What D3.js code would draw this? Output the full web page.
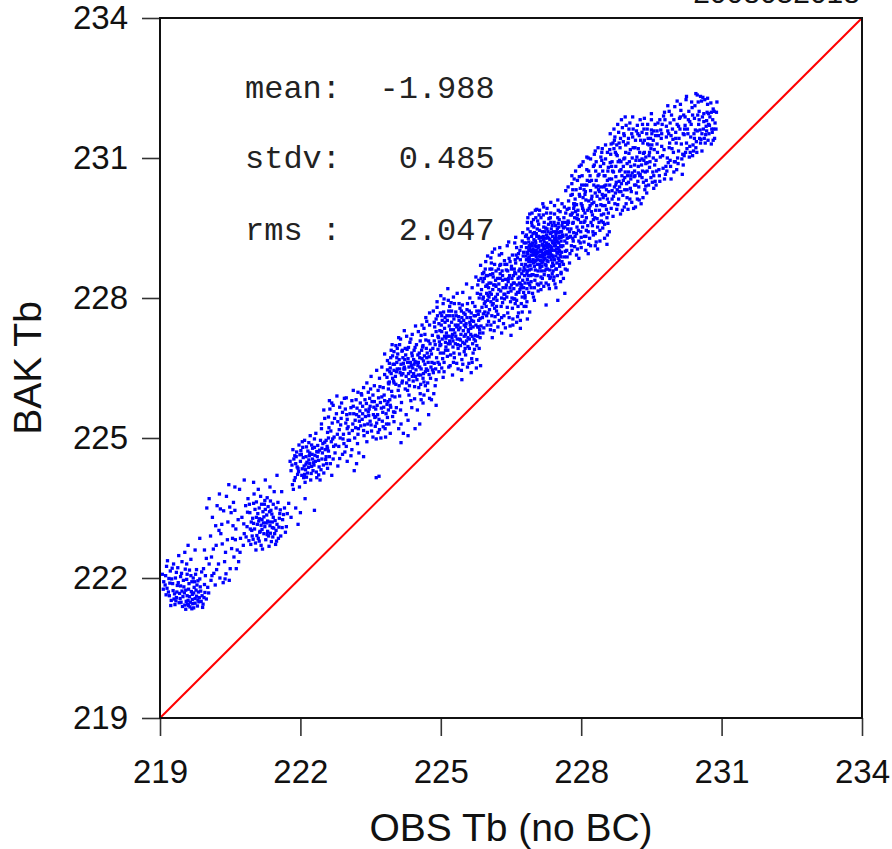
<!DOCTYPE html>
<html>
<head>
<meta charset="utf-8">
<script src="https://cdn.jsdelivr.net/npm/d3@7"></script>
<style>
  html, body { margin: 0; padding: 0; background: #fff; }
  svg { display: block; }
</style>
</head>
<body>
<script>
// ---------------- data ----------------
const dateLabel = "2008052018";
const xTitle = "OBS Tb (no BC)";
const yTitle = "BAK Tb";
const tickValues = [219, 222, 225, 228, 231, 234];
const axisDomain = [219, 234];
const statLabels = ["mean:", "stdv:", "rms :"];
const statValues = ["-1.988", "0.485", "2.047"];

// [OBS Tb, BAK Tb] pairs (first pass)
const obsBakA = [
[219.08,221.92],[219.12,222.05],[219.15,221.78],[219.2,221.62],[219.22,222.15],[219.27,221.88],[219.3,221.55],[219.33,222.0],[219.36,221.7],[219.38,222.22],[219.41,221.47],[219.44,221.83],[219.46,222.1],[219.49,221.6],[219.5,221.95],[219.53,221.42],[219.55,221.74],[219.57,222.3],[219.6,221.52],[219.62,221.88],[219.64,221.38],[219.66,222.05],[219.69,221.65],[219.7,221.45],[219.73,221.8],[219.75,221.56],[219.78,222.18],[219.8,221.4],[219.82,221.7],[219.85,221.98],[219.88,221.5],[219.9,221.62],[219.93,222.2],[219.95,221.86],[219.18,221.7],[219.25,221.98],[219.31,221.66],[219.39,221.9],[219.43,221.56],[219.52,221.68],[219.58,222.08],[219.63,221.6],[219.68,221.92],[219.72,221.36],[219.77,221.74],[219.84,221.58],[219.11,221.85],[219.24,221.52],[219.35,222.12],[219.47,222.35],[219.56,221.5],[219.61,221.76],[219.71,222.0],[219.79,221.85],[219.87,221.72],[219.92,221.44],[219.29,222.3],[219.4,222.48],[219.53,222.55],[219.66,222.4],[219.14,222.25],[219.05,222.08],[219.97,222.05],[220.02,221.8],[220.05,222.3],[219.99,221.55],[219.45,221.48],[219.65,221.48],[219.75,221.46],[219.58,221.62],
[220.1,222.45],[220.15,222.1],[220.2,222.7],[220.25,222.3],[220.3,222.95],[220.35,221.9],[220.4,222.55],[220.45,223.2],[220.5,222.2],[220.55,222.85],[220.6,223.45],[220.65,222.6],[220.12,223.3],[220.22,223.55],[220.32,223.15],[220.42,223.75],[220.52,223.4],[220.62,223.05],[219.75,222.6],[219.85,222.85],[219.95,222.6],[220.08,222.9],[220.18,221.85],[220.28,222.0],[220.38,222.35],[220.48,221.95],[220.58,222.45],[220.7,223.9],[219.6,222.7],[220.0,223.5],[220.05,223.7],[220.27,223.8],[220.47,224.0],[220.68,222.35],
[220.75,223.3],[220.8,222.95],[220.83,223.55],[220.86,223.1],[220.9,222.8],[220.92,223.4],[220.95,223.2],[220.97,222.9],[221.0,223.6],[221.02,223.05],[221.04,222.75],[221.06,223.3],[221.08,223.15],[221.1,222.85],[221.12,223.5],[221.14,223.0],[221.16,222.7],[221.18,223.25],[221.2,223.42],[221.22,222.95],[221.24,223.1],[221.26,222.82],[221.28,223.35],[221.3,223.0],[221.32,222.9],[221.34,223.2],[221.36,223.65],[221.38,222.78],[221.4,223.08],[221.42,223.3],[221.45,222.95],[221.48,223.5],[221.5,223.15],[221.53,222.85],[221.56,223.38],[220.88,223.7],[221.01,223.8],[221.15,223.75],[221.29,223.72],[221.44,223.85],[220.78,222.7],[221.05,222.6],[221.19,222.62],[221.33,222.68],[221.47,222.72],[220.93,223.05],[221.11,223.22],[221.23,223.58],[221.37,223.45],[221.52,223.62],[221.58,222.9],[221.62,223.25],[221.66,223.5],[221.7,223.1],[220.72,222.85],[221.09,223.38],[221.27,223.18],[221.41,222.88],[221.13,222.98],[220.98,223.28],
[221.0,224.05],[221.1,223.9],[221.25,224.1],[221.35,223.95],[221.5,224.2],[221.6,223.85],[221.75,223.6],[221.8,223.3],[221.9,223.5],[222.0,223.4],[222.1,223.7],[222.3,223.45],[221.85,223.9],[221.95,223.15],[220.6,223.95],[220.8,224.1],
[221.8,224.3],[221.83,224.0],[221.86,224.55],[221.89,224.15],[221.92,224.7],[221.95,224.35],[221.98,223.95],[222.0,224.5],[222.03,224.2],[222.05,224.8],[222.08,224.4],[222.1,224.05],[222.12,224.6],[222.15,224.25],[222.18,224.9],[222.2,224.45],[222.22,224.1],[222.25,224.65],[222.27,224.3],[222.3,224.8],[222.32,224.5],[222.35,224.15],[222.38,224.7],[222.4,224.38],[222.43,224.95],[222.46,224.55],[222.5,224.25],[222.53,224.75],[222.56,224.45],[222.6,225.0],[221.9,224.45],[222.02,224.65],[222.14,224.48],[222.24,224.85],[222.36,224.6],[222.48,224.88],[221.84,224.75],[221.97,224.85],[222.09,224.95],[222.21,225.05],[222.33,225.1],[222.45,225.2],[222.11,224.32],[222.19,224.62],[222.29,224.42],[222.07,224.15],[221.94,224.22],[222.26,224.55],[222.42,224.1],[222.58,224.35],[222.62,224.6],[222.67,224.2],[221.78,224.5],[222.16,224.72],
[222.45,225.3],[222.5,225.6],[222.55,224.95],[222.6,225.45],[222.65,225.15],[222.7,225.7],[222.75,224.85],[222.8,225.35],[222.85,225.0],[222.9,225.55],[222.95,224.7],[223.0,225.2],[222.7,224.55],[222.8,224.4],[222.9,224.65],[223.0,224.5],[223.1,224.75],[223.2,224.45],[223.35,224.6],[223.62,224.15],[223.68,224.18],[222.62,225.8],[222.78,225.9],[222.88,225.75],[223.05,224.95],[223.15,224.3],
[223.0,225.4],[223.04,225.1],[223.08,225.65],[223.12,225.3],[223.16,225.0],[223.2,225.5],[223.24,225.2],[223.28,225.75],[223.32,225.4],[223.36,225.05],[223.4,225.6],[223.44,225.3],[223.48,225.85],[223.52,225.15],[223.56,225.5],[223.6,225.25],[223.64,225.7],[223.68,225.4],[223.72,225.0],[223.76,225.55],[223.8,225.8],[223.84,225.3],[223.88,225.6],[223.92,225.1],[223.96,225.9],[223.1,225.8],[223.3,225.95],[223.5,226.05],[223.7,226.1],[223.9,226.2],[223.14,225.52],[223.26,225.36],[223.38,225.82],[223.46,225.48],[223.58,225.78],[223.66,225.12],[223.78,225.66],[223.86,225.44],[223.02,224.95],[223.22,224.88],[223.42,224.92],[223.62,224.98],[223.82,225.02],[224.0,225.35],[224.05,225.65],[224.1,225.2],[224.15,224.9],[224.2,225.1],[224.3,225.05],[224.45,225.2],[224.55,225.3],
[223.85,226.3],[223.9,226.6],[223.95,226.0],[224.0,226.45],[224.04,226.15],[224.08,226.8],[224.12,225.9],[224.16,226.35],[224.2,226.6],[224.24,226.05],[224.28,226.9],[224.32,226.25],[224.36,225.8],[224.4,226.5],[224.44,226.1],[224.48,227.0],[224.52,226.35],[224.56,225.95],[224.6,226.7],[224.64,226.2],[224.68,227.1],[224.72,226.45],[224.76,225.85],[224.8,226.8],[223.92,225.7],[224.02,225.55],[224.14,225.6],[224.26,225.5],[224.38,225.65],[224.5,225.6],[224.62,225.75],[224.74,225.5],[223.8,226.8],[223.96,227.0],[224.1,227.15],[224.22,227.3],[224.34,227.05],[224.46,227.4],[224.58,227.2],[224.7,227.5],[224.06,226.62],[224.18,226.22],[224.3,226.7],[224.42,226.38],[224.54,226.82],[224.66,226.58],[224.78,226.28],[224.09,226.02],[224.21,226.48],[224.33,226.12],[224.45,226.64],[224.57,226.15],[224.69,226.92],[223.88,226.05],[224.0,226.85],[224.13,226.4],[224.25,226.78],[224.37,226.55],[224.49,226.25],[224.61,226.95],[224.73,226.62],[224.15,225.3],[224.3,225.38],[224.85,225.95],[224.9,225.7],
[224.82,227.2],[224.86,226.6],[224.9,227.55],[224.94,226.9],[224.98,227.3],[225.02,226.5],[225.06,227.7],[225.1,227.05],[225.14,226.75],[225.18,227.4],[225.22,227.9],[225.26,226.95],[225.3,227.25],[225.34,226.6],[225.38,227.6],[225.42,227.1],[225.46,227.85],[225.5,226.85],[225.54,227.45],[225.58,227.15],[225.62,228.0],[225.66,226.7],[225.7,227.5],[225.74,227.2],[225.78,228.1],[224.84,226.4],[224.92,227.8],[225.0,227.0],[225.08,227.35],[225.16,227.95],[225.24,227.15],[225.32,227.7],[225.4,226.8],[225.48,227.3],[225.56,227.75],[225.64,227.35],[225.72,226.9],[225.8,227.65],[224.88,227.0],[224.96,227.45],[225.04,226.7],[225.12,227.25],[225.2,226.55],[225.28,227.55],[225.36,227.0],[225.44,226.45],[225.52,227.65],[225.6,226.6],[225.68,227.9],[225.76,226.5],[224.9,226.25],[225.05,226.3],[225.25,226.35],[225.45,226.25],[225.65,226.4],[225.85,226.55],[225.0,228.05],[225.15,228.2],[225.35,228.1],[225.55,228.3],[225.75,228.45],[224.95,227.15],[225.11,226.95],[225.19,227.62],[225.31,227.42],[225.39,227.88],[225.47,227.05],[225.59,227.28],[225.71,227.12],[225.79,227.38],[225.03,227.52],[225.23,227.72],[225.43,227.48],[225.63,227.58],[225.83,227.25],
[225.82,228.0],[225.86,227.4],[225.9,228.35],[225.94,227.7],[225.98,228.1],[226.02,227.5],[226.06,228.5],[226.1,227.85],[226.14,227.3],[226.18,228.25],[226.22,227.65],[226.26,228.7],[226.3,228.0],[226.34,227.45],[226.38,228.4],[226.42,227.8],[226.46,228.85],[226.5,228.15],[226.54,227.55],[226.58,228.55],[226.62,227.95],[226.66,228.95],[226.7,228.3],[226.74,227.7],[226.78,228.65],[225.84,227.15],[225.92,228.55],[226.0,227.95],[226.08,228.75],[226.16,227.6],[226.24,228.3],[226.32,227.9],[226.4,228.6],[226.48,227.4],[226.56,228.2],[226.64,227.6],[226.72,229.1],[226.8,228.0],[225.88,227.8],[225.96,228.25],[226.04,227.75],[226.12,228.45],[226.2,227.95],[226.28,228.15],[226.36,228.8],[226.44,228.35],[226.52,228.0],[226.6,228.75],[226.68,228.45],[226.76,228.9],[225.85,228.7],[226.0,228.9],[226.15,229.05],[226.3,228.95],[226.45,229.2],[226.6,229.3],[226.75,229.4],[225.9,227.25],[226.1,227.15],[226.3,227.25],[226.5,227.2],[226.7,227.35],[226.85,227.55],[226.03,228.02],[226.11,228.18],[226.19,227.82],[226.27,228.42],[226.35,228.08],[226.43,228.58],[226.51,228.28],[226.59,227.88],[226.67,228.12],[226.75,228.38],[225.95,227.92],[226.07,228.32],[226.23,228.62],[226.39,228.22],[226.55,228.48],[226.71,228.22],[226.87,228.82],[226.9,227.7],[226.95,228.5],
[226.82,228.9],[226.85,228.4],[226.88,229.2],[226.91,228.7],[226.94,229.0],[226.97,228.5],[227.0,229.4],[227.03,228.8],[227.06,228.3],[227.09,229.1],[227.12,228.65],[227.15,229.3],[227.18,228.95],[227.21,228.5],[227.24,229.5],[227.27,228.8],[227.3,229.15],[227.33,228.6],[227.36,229.4],[227.39,228.9],[227.42,228.45],[227.45,229.25],[227.48,228.75],[227.51,229.6],[227.54,229.0],[227.57,228.55],[227.6,229.35],[226.83,229.35],[226.89,228.6],[226.95,229.55],[227.01,228.95],[227.07,229.65],[227.13,229.0],[227.19,229.25],[227.25,228.7],[227.31,229.7],[227.37,229.05],[227.43,229.8],[227.49,229.2],[227.55,229.85],[226.86,228.95],[226.92,229.15],[226.98,228.75],[227.04,229.1],[227.1,228.9],[227.16,228.75],[227.22,229.05],[227.28,229.3],[227.34,228.95],[227.4,229.2],[227.46,228.9],[227.52,229.4],[227.58,229.1],[226.84,228.2],[226.96,228.1],[227.08,228.15],[227.2,228.25],[227.32,228.2],[227.44,228.3],[227.56,228.35],[226.9,229.8],[227.05,229.9],[227.2,229.95],[227.35,230.05],[227.5,230.1],[226.87,228.85],[226.93,228.35],[226.99,229.25],[227.02,228.6],[227.11,229.45],[227.14,228.45],[227.17,229.15],[227.23,228.85],[227.26,229.35],[227.29,228.95],[227.35,228.45],[227.38,229.55],[227.41,228.7],[227.47,229.05],[227.53,228.8],[227.59,229.55],[226.8,228.6],[226.97,229.05],[227.05,228.95],[227.13,228.8],[227.21,229.2],[227.27,229.0],[227.33,229.25],[227.39,228.75],[227.45,229.55],[227.51,228.85],[227.57,229.3],[226.8,228.05],[227.0,227.95],[227.25,227.85],[227.5,227.95],[227.65,228.1],[227.7,228.6],
[227.62,229.5],[227.66,229.0],[227.7,229.9],[227.74,229.3],[227.78,230.2],[227.82,229.6],[227.86,229.1],[227.9,230.0],[227.94,229.45],[227.98,230.35],[228.02,229.75],[228.06,229.2],[228.1,230.1],[228.14,229.55],[228.18,230.5],[228.22,229.85],[228.26,229.35],[228.3,230.25],[228.34,229.7],[228.38,230.65],[228.42,230.0],[228.46,229.5],[228.5,230.4],[228.54,229.9],[228.58,230.8],[227.64,229.95],[227.72,229.65],[227.8,230.45],[227.88,229.85],[227.96,230.6],[228.04,230.15],[228.12,230.75],[228.2,230.3],[228.28,230.85],[228.36,230.4],[228.44,230.95],[228.52,230.2],[228.6,230.55],[227.68,229.35],[227.76,228.95],[227.84,229.4],[227.92,229.05],[228.0,229.3],[228.08,229.65],[228.16,229.15],[228.24,229.55],[228.32,229.2],[228.4,229.45],[228.48,229.8],[228.56,229.35],[227.67,230.3],[227.85,230.55],[228.0,230.85],[228.15,231.0],[228.3,231.15],[228.45,231.2],[227.75,228.75],[227.95,228.85],[228.15,228.95],[228.35,229.05],[228.55,229.15],[227.79,229.78],[227.87,230.12],[227.99,229.62],[228.07,230.42],[228.19,229.98],[228.27,230.05],[228.39,230.28],[228.47,230.15],[228.59,230.05],[227.71,229.58],[227.83,229.22],[227.91,229.7],[228.03,229.92],[228.11,229.45],[228.23,230.18],[228.31,229.88],[228.43,229.65],[228.51,230.62],[228.57,229.6],
[228.62,230.9],[228.66,230.3],[228.7,231.2],[228.74,230.6],[228.78,230.0],[228.82,230.95],[228.86,230.45],[228.9,231.35],[228.94,230.7],[228.98,230.15],[229.02,231.1],[229.06,230.55],[229.1,231.45],[229.14,230.85],[229.18,230.25],[229.22,231.2],[229.26,230.65],[229.3,231.55],[229.34,230.95],[229.38,230.4],[229.42,231.3],[229.46,230.8],[229.5,231.6],[229.54,231.0],[229.58,230.5],[228.64,231.3],[228.72,231.45],[228.8,231.55],[228.88,231.65],[228.96,231.7],[229.04,231.75],[228.68,229.75],[228.76,229.9],[228.84,229.8],[228.92,229.95],[229.0,229.9],[229.08,230.05],[229.16,229.95],[229.24,230.1],[229.32,230.15],[228.69,230.7],[228.77,231.05],[228.85,230.75],[228.93,231.0],[229.01,230.7],[229.09,231.0],[229.17,230.95],[229.25,230.95],[229.33,231.1],[229.41,230.9],[229.49,231.2],[229.57,230.85],[228.65,230.55],[228.73,230.25],[228.81,230.5],[228.89,230.2],[228.97,230.45],[229.05,230.35],[229.13,230.6],[229.21,230.5],[229.29,230.85],[229.37,230.7],[229.45,231.05],[229.53,230.7],[229.2,231.7],[229.35,231.85],[229.5,231.95],[229.4,230.25],[229.55,230.35],
[229.62,231.3],[229.66,230.75],[229.7,231.6],[229.74,231.05],[229.78,230.55],[229.82,231.45],[229.86,230.9],[229.9,231.75],[229.94,231.2],[229.98,230.7],[230.02,231.55],[230.06,231.0],[230.1,231.85],[230.14,231.3],[230.18,230.85],[230.22,231.7],[230.26,231.2],[230.3,232.0],[230.34,231.45],[230.38,231.05],[230.42,231.85],[230.46,231.35],[230.5,232.2],[230.54,231.6],[230.58,231.15],[230.62,231.95],[230.66,231.5],[230.7,232.15],[230.74,231.7],[230.78,231.3],[230.82,232.05],[230.86,231.75],[230.9,232.2],[229.64,231.75],[229.76,231.9],[229.88,232.0],[230.0,232.1],[230.12,232.15],[230.24,232.25],[230.36,232.2],[230.48,232.35],[230.6,232.3],[229.68,230.5],[229.8,230.65],[229.92,230.55],[230.04,230.75],[230.16,230.65],[229.72,231.25],[229.84,231.0],[229.96,231.4],[230.08,231.15],[230.2,231.5],[230.32,231.25],[230.44,231.6],[230.56,231.4],[230.68,231.8],[230.8,231.55],[229.6,230.95],[229.9,230.95],[230.2,231.05],[230.4,231.15],[230.72,231.95],[230.84,232.0],[230.52,232.0],[230.64,232.25]
];

// [OBS Tb, BAK Tb] pairs (second pass, filling density)
const obsBakB = [
[219.13,221.64],[219.19,221.99],[219.23,221.41],[219.28,221.73],[219.34,221.51],[219.37,221.84],[219.42,221.67],[219.48,221.39],[219.51,221.81],[219.54,222.19],[219.59,221.44],[219.67,221.71],[219.74,221.92],[219.81,221.53],[219.86,221.81],[219.91,221.37],[219.96,221.69],[219.07,221.76],[219.16,222.37],[219.26,222.21],[219.32,221.43],[219.44,222.03],[219.57,221.97],[219.63,222.17],[219.69,221.54],[219.76,222.08],[219.83,221.49],[219.89,222.13],[219.21,221.89],[219.35,221.58],[219.47,221.72],[219.61,221.41],[219.72,221.68],[219.81,221.94],[219.94,221.58],[220.04,221.68],[220.09,221.95],[219.55,221.33],[219.68,221.34],[219.78,221.61],
[220.14,222.62],[220.21,222.18],[220.33,222.73],[220.41,222.09],[220.53,222.63],[220.63,222.2],[220.26,223.02],[220.36,223.44],[220.57,223.62],[220.67,223.25],[220.11,222.05],[219.99,222.42],[220.44,222.82],[220.19,223.12],[220.39,221.98],[220.61,222.82],[220.71,222.55],[220.49,223.52],[220.29,223.48],[220.56,223.12],
[220.79,223.16],[220.84,222.88],[220.91,223.58],[220.96,223.02],[221.03,223.47],[221.07,222.91],[221.13,223.27],[221.17,223.58],[221.21,223.18],[221.25,223.47],[221.29,222.93],[221.31,223.53],[221.35,223.12],[221.39,223.37],[221.43,223.07],[221.46,223.23],[221.49,222.79],[221.54,223.09],[221.57,223.46],[221.61,223.08],[220.87,223.41],[220.94,222.72],[221.0,223.17],[221.06,223.63],[221.12,222.79],[221.18,223.04],[221.24,223.66],[221.3,223.22],[221.36,222.96],[221.42,223.58],[221.48,223.02],[221.55,223.28],[221.64,223.36],[221.68,222.98],[221.72,223.38],[220.99,222.83],[221.16,223.13],[221.22,223.31],[221.34,223.42],[221.4,223.2],
[221.82,224.42],[221.87,224.09],[221.91,224.6],[221.96,224.28],[222.01,224.73],[222.04,224.34],[222.06,224.58],[222.09,224.22],[222.13,224.81],[222.17,224.37],[222.2,224.68],[222.23,224.24],[222.26,224.78],[222.28,224.47],[222.31,224.63],[222.34,224.27],[222.37,224.84],[222.39,224.52],[222.41,224.74],[222.44,224.32],[222.47,224.68],[222.49,224.42],[222.52,224.91],[222.55,224.6],[222.57,224.82],[221.88,224.62],[221.93,224.38],[221.99,224.64],[222.04,224.92],[222.13,224.16],[222.18,224.53],[222.24,224.39],[222.3,224.98],[222.35,224.71],[222.39,224.21],[222.46,224.78],[222.54,224.54],[222.6,224.72],[222.64,224.45],[222.12,224.44],
[222.52,225.42],[222.58,225.12],[222.63,225.62],[222.68,225.32],[222.72,225.02],[222.77,225.52],[222.83,225.18],[222.87,225.42],[222.92,225.08],[222.97,225.32],[222.58,224.78],[222.66,224.92],[222.74,224.68],[222.82,224.82],[222.93,224.88],[222.99,225.5],[222.67,225.75],[222.94,225.85],[223.08,224.62],[223.25,224.68],
[223.02,225.24],[223.06,225.52],[223.11,225.16],[223.13,225.68],[223.17,225.38],[223.19,225.82],[223.23,225.08],[223.27,225.58],[223.29,225.26],[223.33,225.68],[223.35,225.16],[223.39,225.46],[223.41,225.74],[223.43,225.12],[223.47,225.62],[223.49,225.36],[223.53,225.78],[223.55,225.02],[223.59,225.44],[223.61,225.62],[223.63,225.32],[223.67,225.86],[223.69,225.18],[223.73,225.64],[223.75,225.36],[223.79,225.92],[223.81,225.2],[223.83,225.52],[223.87,225.78],[223.89,225.3],[223.93,225.66],[223.97,225.46],[223.18,225.22],[223.25,225.46],[223.31,225.92],[223.37,225.28],[223.45,225.56],[223.51,225.28],[223.57,225.66],[223.65,225.5],[223.71,225.76],[223.77,225.24],[223.85,225.72],[223.91,225.82],[223.99,225.56],[223.21,225.64],[223.33,225.52],[223.49,225.68],[223.61,225.46],[223.74,225.88],
[223.86,226.46],[223.89,226.16],[223.93,226.72],[223.97,226.28],[224.01,226.58],[224.03,226.32],[224.07,226.92],[224.11,226.12],[224.15,226.58],[224.17,226.86],[224.19,226.38],[224.23,226.68],[224.27,226.18],[224.29,226.62],[224.31,226.94],[224.35,226.42],[224.39,226.76],[224.41,226.22],[224.43,226.88],[224.47,226.46],[224.51,226.78],[224.53,226.08],[224.55,226.52],[224.59,226.88],[224.63,226.38],[224.65,226.76],[224.67,226.12],[224.71,226.82],[224.75,226.36],[224.77,227.02],[223.91,226.42],[223.99,226.22],[224.05,226.42],[224.11,226.68],[224.17,226.18],[224.23,226.48],[224.29,226.02],[224.35,226.62],[224.39,226.32],[224.45,226.94],[224.51,226.55],[224.57,226.35],[224.63,226.65],[224.69,226.48],[224.75,226.74],[224.79,226.52],[223.94,226.88],[224.04,226.98],[224.14,227.12],[224.27,227.18],[224.39,227.22],[224.52,227.28],[224.64,227.35],[224.76,227.42],[224.02,225.88],[224.16,225.76],[224.32,225.92],[224.44,225.84],[224.58,225.82],[224.72,226.02],[224.07,226.48],[224.19,226.72],[224.31,226.38],[224.43,226.58],[224.55,226.72],[224.67,226.42],[224.81,226.62],[223.98,226.58],[224.24,226.92],[224.48,226.62],
[224.83,226.92],[224.87,227.38],[224.91,226.72],[224.93,227.62],[224.97,227.06],[224.99,226.82],[225.01,227.42],[225.03,227.12],[225.07,226.62],[225.09,227.58],[225.13,227.18],[225.15,226.88],[225.17,227.72],[225.19,227.08],[225.21,226.78],[225.23,227.48],[225.27,227.32],[225.29,226.72],[225.33,227.62],[225.35,227.12],[225.37,226.92],[225.41,227.78],[225.43,227.22],[225.45,226.68],[225.49,227.52],[225.51,227.02],[225.53,226.78],[225.57,227.88],[225.59,227.32],[225.61,226.92],[225.65,227.68],[225.67,227.18],[225.69,226.82],[225.73,227.82],[225.75,227.42],[225.77,226.98],[225.81,227.52],[225.05,227.88],[225.13,227.62],[225.21,227.32],[225.29,227.88],[225.37,227.42],[225.45,227.58],[225.53,227.22],[225.61,227.72],[225.69,227.38],[225.77,227.72],[224.86,227.08],[224.94,227.18],[225.02,227.28],[225.1,226.88],[225.18,227.18],[225.26,227.08],[225.34,227.38],[225.42,226.98],[225.5,227.42],[225.58,226.96],[225.66,227.52],[225.74,227.08],[225.82,226.92],[224.89,226.48],[224.97,226.58],[225.07,226.42],[225.17,226.52],[225.27,226.62],[225.37,226.48],[225.47,226.58],[225.57,226.52],[225.67,226.62],[225.77,226.68],[225.07,227.98],[225.27,228.02],[225.47,228.12],[225.67,228.22],[225.79,228.28],[224.99,227.68],[225.09,227.48],[225.19,227.82],[225.31,227.02],[225.41,227.36],[225.49,227.68],[225.55,227.08],[225.63,227.42],[225.71,227.62],[225.79,227.18],[225.25,227.22],[225.39,227.52],[225.53,227.38],[225.11,227.14],[225.61,227.12],
[225.83,227.72],[225.87,228.18],[225.89,227.58],[225.93,228.42],[225.97,227.82],[225.99,228.28],[226.01,227.68],[226.05,228.12],[226.07,227.42],[226.09,228.62],[226.13,227.98],[226.17,228.38],[226.19,227.72],[226.21,228.08],[226.25,227.52],[226.27,228.52],[226.29,227.82],[226.33,228.22],[226.35,227.62],[226.37,228.72],[226.41,228.02],[226.43,227.68],[226.45,228.42],[226.49,227.92],[226.51,228.62],[226.53,227.78],[226.57,228.32],[226.59,228.82],[226.61,228.08],[226.65,227.82],[226.67,228.58],[226.69,228.18],[226.73,228.72],[226.77,228.12],[226.79,228.48],[225.86,228.42],[225.91,228.02],[225.95,228.62],[226.03,228.32],[226.07,228.86],[226.11,228.52],[226.15,228.72],[226.21,228.42],[226.25,228.92],[226.31,228.58],[226.37,228.08],[226.41,228.72],[226.47,228.48],[226.53,228.92],[226.57,228.62],[226.63,228.28],[226.69,228.62],[226.73,228.28],[226.77,228.98],[225.84,227.56],[225.92,227.36],[225.98,227.62],[226.06,227.32],[226.14,227.48],[226.22,227.38],[226.3,227.58],[226.38,227.36],[226.46,227.58],[226.54,227.42],[226.62,227.48],[226.7,227.52],[226.78,227.82],[226.02,228.22],[226.08,228.08],[226.12,227.88],[226.18,228.58],[226.24,228.18],[226.28,228.72],[226.32,228.38],[226.36,227.98],[226.4,228.28],[226.44,228.12],[226.48,228.78],[226.52,228.42],[226.56,227.98],[226.6,228.52],[226.64,228.12],[226.68,228.32],[226.72,227.88],[226.76,228.58],[225.96,228.78],[226.1,228.98],[226.26,229.08],[226.42,229.12],[226.58,229.18],[226.74,229.22],[225.9,227.98],[226.0,228.48],[226.16,228.28],[226.32,228.48],[226.48,228.22],[226.64,228.86],[226.8,228.32],[226.84,227.92],[226.88,228.12],
[226.81,228.72],[226.83,229.08],[226.85,228.58],[226.87,229.28],[226.89,228.88],[226.91,229.42],[226.93,228.62],[226.95,229.12],[226.97,228.82],[226.99,229.52],[227.01,229.12],[227.03,228.48],[227.05,229.32],[227.07,228.82],[227.09,229.58],[227.11,228.72],[227.13,229.22],[227.15,228.58],[227.17,229.42],[227.19,228.92],[227.21,229.62],[227.23,229.12],[227.25,228.62],[227.27,229.48],[227.29,228.78],[227.31,229.28],[227.33,228.88],[227.35,229.62],[227.37,228.68],[227.39,229.18],[227.41,229.42],[227.43,228.82],[227.45,229.12],[227.47,228.62],[227.49,229.48],[227.51,229.08],[227.53,229.68],[227.55,228.92],[227.57,229.22],[227.59,228.78],[226.82,229.18],[226.84,228.52],[226.86,229.48],[226.88,228.78],[226.9,229.08],[226.92,228.48],[226.94,229.32],[226.96,228.92],[226.98,229.68],[227.0,228.68],[227.02,229.22],[227.04,228.88],[227.06,229.48],[227.08,228.58],[227.1,229.28],[227.12,229.02],[227.14,229.72],[227.16,228.68],[227.18,229.12],[227.2,228.82],[227.22,229.42],[227.24,228.98],[227.26,229.18],[227.28,228.62],[227.3,229.58],[227.32,229.02],[227.34,229.38],[227.36,228.82],[227.38,229.22],[227.4,228.58],[227.42,229.62],[227.44,229.02],[227.46,229.32],[227.48,228.98],[227.5,229.72],[227.52,229.18],[227.54,228.68],[227.56,229.42],[227.58,228.98],[227.6,229.62],[226.85,229.62],[226.95,229.82],[227.03,229.72],[227.11,229.88],[227.19,229.78],[227.27,229.92],[227.35,229.82],[227.43,229.98],[227.51,229.88],[227.59,230.02],[226.87,228.32],[226.93,228.22],[227.01,228.38],[227.09,228.28],[227.17,228.42],[227.25,228.32],[227.33,228.42],[227.41,228.38],[227.49,228.48],[227.57,228.52],[226.84,228.98],[226.9,228.82],[226.96,229.18],[227.02,228.92],[227.08,229.08],[227.14,228.9],[227.2,229.08],[227.26,228.96],[227.32,229.12],[227.38,229.02],[227.44,229.18],[227.5,228.96],[227.56,229.12],[226.92,229.02],[226.98,228.98],[227.04,229.02],[227.1,229.12],[227.16,229.02],[227.22,228.92],[227.28,229.08],[227.34,229.1],[227.4,228.88],[227.46,229.38],[227.52,229.28],[227.58,229.42],[226.86,228.68],[226.94,228.78],[227.0,229.02],[227.06,228.72],[227.12,228.88],[227.18,228.78],[227.24,229.28],[227.3,228.88],[227.36,229.08],[227.42,229.12],[227.48,229.22],[227.54,229.32],[226.88,229.02],[227.04,229.38],[227.2,229.52],[227.36,229.48],[227.52,229.52],[227.0,228.22],[227.14,228.18],[227.3,228.28],[227.46,228.22],[227.62,228.42],[227.64,228.88],[227.66,228.62],
[227.61,229.12],[227.63,229.72],[227.65,229.22],[227.67,229.82],[227.69,229.02],[227.71,229.48],[227.73,230.08],[227.75,229.42],[227.77,229.78],[227.79,229.12],[227.81,230.22],[227.83,229.62],[227.85,229.98],[227.87,229.32],[227.89,230.32],[227.91,229.52],[227.93,229.88],[227.95,229.22],[227.97,230.18],[227.99,229.42],[228.01,230.42],[228.03,229.52],[228.05,229.88],[228.07,229.32],[228.09,230.28],[228.11,229.72],[228.13,230.52],[228.15,229.42],[228.17,229.92],[228.19,230.62],[228.21,229.62],[228.23,230.02],[228.25,229.42],[228.27,230.42],[228.29,229.72],[228.31,230.72],[228.33,229.98],[228.35,229.52],[228.37,230.32],[228.39,229.88],[228.41,230.82],[228.43,229.78],[228.45,230.22],[228.47,229.62],[228.49,230.62],[228.51,229.98],[228.53,230.42],[228.55,229.72],[228.57,230.72],[228.59,230.28],[227.66,229.62],[227.7,229.28],[227.74,229.92],[227.78,229.48],[227.82,229.28],[227.86,229.72],[227.9,229.38],[227.94,229.68],[227.98,229.18],[228.02,229.98],[228.06,229.62],[228.1,229.32],[228.14,229.88],[228.18,229.28],[228.22,230.12],[228.26,229.68],[228.3,229.38],[228.34,230.18],[228.38,229.62],[228.42,230.38],[228.46,229.98],[228.5,229.58],[228.54,230.32],[228.58,229.82],[227.72,230.38],[227.8,230.62],[227.88,230.72],[227.96,230.82],[228.04,230.92],[228.12,231.02],[228.2,230.98],[228.28,231.08],[228.36,231.22],[228.44,231.12],[228.52,231.28],[227.7,228.88],[227.8,229.02],[227.9,228.92],[228.0,229.08],[228.1,229.02],[228.2,229.12],[228.3,229.12],[228.4,229.22],[228.5,229.28],[228.6,229.42],[227.84,230.02],[228.08,230.22],[228.32,230.52],[228.48,230.88],[228.56,230.12],
[228.61,230.42],[228.63,231.08],[228.67,230.72],[228.71,230.38],[228.73,231.12],[228.75,230.48],[228.79,230.92],[228.81,230.28],[228.83,231.22],[228.87,230.62],[228.91,230.98],[228.93,230.32],[228.95,231.28],[228.99,230.62],[229.03,230.92],[229.07,230.28],[229.11,231.22],[229.15,230.62],[229.19,231.02],[229.23,230.38],[229.27,231.38],[229.31,230.72],[229.35,231.12],[229.39,230.52],[229.43,231.42],[229.47,230.92],[229.51,231.28],[229.55,230.62],[229.59,231.48],[228.62,231.52],[228.7,231.62],[228.78,231.72],[228.86,231.82],[228.94,231.88],[229.02,231.62],[229.1,231.88],[229.18,231.58],[229.26,231.82],[229.34,231.62],[229.42,231.72],[229.5,231.82],[229.58,231.72],[228.64,229.92],[228.72,230.02],[228.8,230.12],[228.88,229.88],[228.96,230.02],[229.04,230.12],[229.12,229.92],[229.2,230.12],[229.28,230.02],[229.36,230.32],[229.44,230.42],[229.52,230.48],[229.6,230.42],[228.66,230.92],[228.74,230.82],[228.82,230.72],[228.9,230.82],[228.98,230.88],[229.06,230.82],[229.14,230.72],[229.22,230.82],[229.3,230.98],[229.38,231.02],[229.46,231.12],[229.54,231.38],[228.68,231.32],[228.76,231.28],[228.84,231.42],[228.92,231.48],[229.0,231.32],[229.08,231.52],[229.16,231.38],[229.24,231.48],[229.32,231.32],[229.4,231.52],[229.48,231.42],[229.56,231.18],[228.69,230.18],[228.77,230.32],[228.85,230.28],[228.93,230.58],[229.01,230.48],[229.09,230.68],[229.17,230.42],[229.25,230.62],[229.33,230.48],[229.41,230.72],[229.49,230.58],
[229.61,230.72],[229.65,231.48],[229.69,231.02],[229.73,231.72],[229.77,231.18],[229.81,230.82],[229.85,231.58],[229.89,231.32],[229.93,231.92],[229.97,231.12],[230.01,230.92],[230.05,231.72],[230.09,231.42],[230.13,232.02],[230.17,231.08],[230.21,231.62],[230.25,231.32],[230.29,231.82],[230.33,231.12],[230.37,232.08],[230.41,231.52],[230.45,231.22],[230.49,231.92],[230.53,231.42],[230.57,232.22],[230.61,231.62],[230.65,231.32],[230.69,231.98],[230.73,231.52],[230.77,232.18],[230.81,231.82],[230.85,231.42],[230.89,231.98],[229.63,231.12],[229.71,231.42],[229.79,231.82],[229.87,231.52],[229.95,231.62],[230.03,231.32],[230.11,231.62],[230.19,231.92],[230.27,231.62],[230.35,231.72],[230.43,232.12],[230.51,231.72],[230.59,231.88],[230.67,231.68],[230.75,231.88],[230.83,231.62],[229.67,230.62],[229.75,230.78],[229.83,230.72],[229.91,230.82],[229.99,230.92],[230.07,230.88],[230.15,230.98],[230.23,231.12],[230.31,231.02],[230.39,231.28],[230.47,231.12],[230.55,231.32],[230.63,231.42],[230.71,231.38],[230.79,231.62],[229.85,232.12],[230.05,232.22],[230.25,232.32],[230.45,232.38],[230.55,232.32],[230.7,232.28]
];

// [OBS Tb, BAK Tb] pairs (third pass, band edges and dense core)
const obsBakC = [
[223.42,226.18],[223.51,226.32],[223.58,226.12],[223.63,226.45],[223.69,226.28],[223.74,226.52],[223.8,226.36],[223.86,226.66],[223.92,226.5],[223.97,226.76],[223.45,225.98],[223.55,225.92],[223.66,226.02],[223.77,226.08],[223.88,226.18],[223.35,226.08],[223.23,225.98],[223.13,226.02],[222.98,225.86],[222.84,225.66],
[222.61,225.22],[222.69,224.98],[222.73,225.42],[222.79,225.08],[222.86,225.28],[222.91,224.98],[222.96,225.62],[222.71,224.82],[222.84,224.56],[222.98,224.82],
[224.62,226.98],[224.66,227.22],[224.7,226.72],[224.74,227.08],[224.78,226.88],[224.82,226.46],[224.86,227.48],[224.9,227.28],[224.94,226.62],[224.98,226.98],[224.64,225.92],[224.72,226.18],[224.8,225.82],[224.88,226.12],[224.96,226.42],[224.6,227.42],[224.68,227.58],[224.76,227.68],[224.84,227.72],[224.92,227.92],
[225.81,228.38],[225.85,228.08],[225.89,228.52],[225.93,227.88],[225.97,228.48],[226.01,228.06],[226.05,228.62],[226.09,227.62],[226.13,228.28],[226.17,228.02],[225.83,227.32],[225.91,227.66],[225.99,227.42],[226.07,227.92],[226.15,227.78],
[226.51,228.68],[226.55,228.32],[226.61,228.92],[226.65,228.42],[226.69,229.02],[226.73,228.52],[226.77,228.22],[226.81,229.32],[226.83,228.82],[226.87,228.48],[226.89,229.12],[226.93,228.92],[226.97,229.38],[227.01,228.78],[227.03,229.18],[227.07,228.98],[227.09,229.32],[227.13,228.92],[227.17,228.88],[227.19,229.32],[227.23,228.72],[227.27,229.12],[227.29,229.42],[227.33,229.02],[227.37,228.92],[227.39,229.32],[227.43,229.28],[227.47,229.42],[227.53,229.02],[227.57,228.88],[227.61,229.32],[227.65,229.52],[227.69,229.18],[227.73,229.62],[227.77,229.32],[227.81,229.82],[226.58,227.98],[226.66,227.68],[226.74,228.02],[226.82,227.82],[226.9,228.28],[226.98,228.02],[227.06,228.48],[227.14,228.32],[227.22,228.58],[227.3,228.48],[227.38,228.52],[227.46,228.62],[227.54,228.72],[227.62,228.72],[226.62,229.08],[226.7,228.82],[226.78,229.18],[226.86,229.72],[226.94,229.62],[227.02,229.88],[227.1,229.78],[227.18,230.02],[227.26,229.82],[227.34,229.72],
[227.82,230.32],[227.86,230.02],[227.92,230.52],[227.96,230.22],[228.02,230.62],[228.06,230.32],[228.12,230.42],[228.16,230.72],[228.22,230.52],[228.26,230.82],[228.32,230.92],[228.36,230.62],[228.42,231.02],[228.46,230.72],[228.52,230.98],[228.56,231.12],[227.84,229.92],[227.92,229.78],[228.0,230.02],[228.08,229.82],[228.16,230.08],[228.24,229.78],[228.32,230.38],[228.4,230.12],[228.48,230.38],[228.56,230.52],
[228.61,231.18],[228.65,230.82],[228.71,231.38],[228.75,231.08],[228.81,231.32],[228.85,230.92],[228.91,231.52],[228.95,231.12],[229.01,231.42],[229.05,231.18],[229.11,231.62],[229.15,231.22],[229.21,231.52],[229.25,231.12],[229.31,231.72],[229.35,231.38],[229.41,231.62],[229.45,231.28],[229.51,231.52],[229.55,231.58],[228.66,230.12],[228.74,230.42],[228.82,230.38],[228.9,230.52],[228.98,230.32],[229.06,230.62],[229.14,230.42],[229.22,230.68],[229.3,230.58],[229.38,230.88],
[229.62,231.58],[229.68,231.82],[229.72,231.52],[229.78,231.98],[229.82,231.68],[229.88,231.22],[229.92,231.48],[229.98,231.82],[230.02,231.42],[230.08,231.68],[230.12,231.88],[230.18,231.52],[230.22,231.88],[230.28,231.52],[230.32,231.78],[230.38,231.92],[230.42,231.42],[230.48,231.58],[230.52,231.82],[230.58,231.52],[230.62,231.78],[230.68,231.58],[230.72,231.72],[230.78,231.98],[230.82,231.38],[230.88,231.62],
[225.02,227.62],[225.08,227.18],[225.14,227.52],[225.2,227.02],[225.26,227.62],[225.32,227.18],[225.38,227.32],[225.44,227.72],[225.5,227.18],[225.56,227.58],[225.62,227.48],[225.68,227.02],[225.74,227.62],[225.8,227.38],[225.06,226.82],[225.16,227.02],[225.28,226.82],[225.4,227.12],[225.52,226.92],[225.64,227.22],
[223.94,226.38],[224.0,226.18],[224.06,226.72],[224.12,226.48],[224.18,226.88],[224.22,226.52],[224.26,226.32],[224.32,226.52],[224.38,226.82],[224.42,226.68],[224.46,226.32],[224.52,226.62],[224.58,226.48],[224.62,226.28],[224.12,227.0],[224.36,227.12],[224.56,227.08]
];

const obsBak = obsBakA.concat(obsBakB, obsBakC);

// ---------------- layout ----------------
const W = 892, H = 849;
const plot = {left: 160, top: 18, right: 862, bottom: 718};

const svg = d3.select("body").append("svg")
  .attr("width", W).attr("height", H)
  .style("font-family", "'Liberation Sans', Arial, Helvetica, sans-serif");

const x = d3.scaleLinear().domain(axisDomain).range([plot.left, plot.right]);
const y = d3.scaleLinear().domain(axisDomain).range([plot.bottom, plot.top]);

// date label (cut at top, as in the original)
svg.append("text")
  .attr("x", 860).attr("y", 3)
  .attr("text-anchor", "end")
  .attr("font-size", 30)
  .attr("fill", "#111")
  .text(dateLabel);

// scatter
const ms = 3.3;
svg.append("g").selectAll("rect")
  .data(obsBak)
  .join("rect")
  .attr("x", d => x(d[0]) - ms / 2)
  .attr("y", d => y(d[1]) - ms / 2)
  .attr("width", ms).attr("height", ms)
  .attr("fill", "#0000ff");

// 1:1 line
svg.append("line")
  .attr("x1", x(axisDomain[0])).attr("y1", y(axisDomain[0]))
  .attr("x2", x(axisDomain[1])).attr("y2", y(axisDomain[1]))
  .attr("stroke", "#ff0000").attr("stroke-width", 2);

// axes
const xAxis = d3.axisBottom(x).tickValues(tickValues).tickSize(18).tickPadding(24).tickFormat(d3.format("d"));
const yAxis = d3.axisLeft(y).tickValues(tickValues).tickSize(18).tickPadding(14).tickFormat(d3.format("d"));

const gx = svg.append("g").attr("transform", `translate(0,${plot.bottom})`).call(xAxis);
const gy = svg.append("g").attr("transform", `translate(${plot.left},0)`).call(yAxis);
[gx, gy].forEach(g => {
  g.select(".domain").remove();
  g.selectAll(".tick line").attr("stroke", "#333").attr("stroke-width", 1.6);
  g.selectAll(".tick text")
    .attr("font-size", 33)
    .attr("fill", "#111")
    .style("font-family", "'Liberation Sans', Arial, sans-serif");
});

// frame
svg.append("rect")
  .attr("x", plot.left).attr("y", plot.top)
  .attr("width", plot.right - plot.left).attr("height", plot.bottom - plot.top)
  .attr("fill", "none").attr("stroke", "#111").attr("stroke-width", 2);

// stats
const statBaselines = [98, 168, 240];
statLabels.forEach((lab, i) => {
  svg.append("text")
    .attr("x", 245).attr("y", statBaselines[i])
    .attr("font-size", 32)
    .attr("fill", "#222")
    .attr("xml:space", "preserve")
    .style("white-space", "pre")
    .style("font-family", "'Liberation Mono', 'Courier New', monospace")
    .text(lab + "  " + statValues[i].padStart(6, " "));
});

// axis titles
svg.append("text")
  .attr("x", (plot.left + plot.right) / 2).attr("y", 841)
  .attr("text-anchor", "middle")
  .attr("font-size", 39)
  .attr("fill", "#111")
  .text(xTitle);

svg.append("text")
  .attr("transform", "translate(41,368) rotate(-90)")
  .attr("text-anchor", "middle")
  .attr("font-size", 39)
  .attr("fill", "#111")
  .text(yTitle);
</script>
</body>
</html>
